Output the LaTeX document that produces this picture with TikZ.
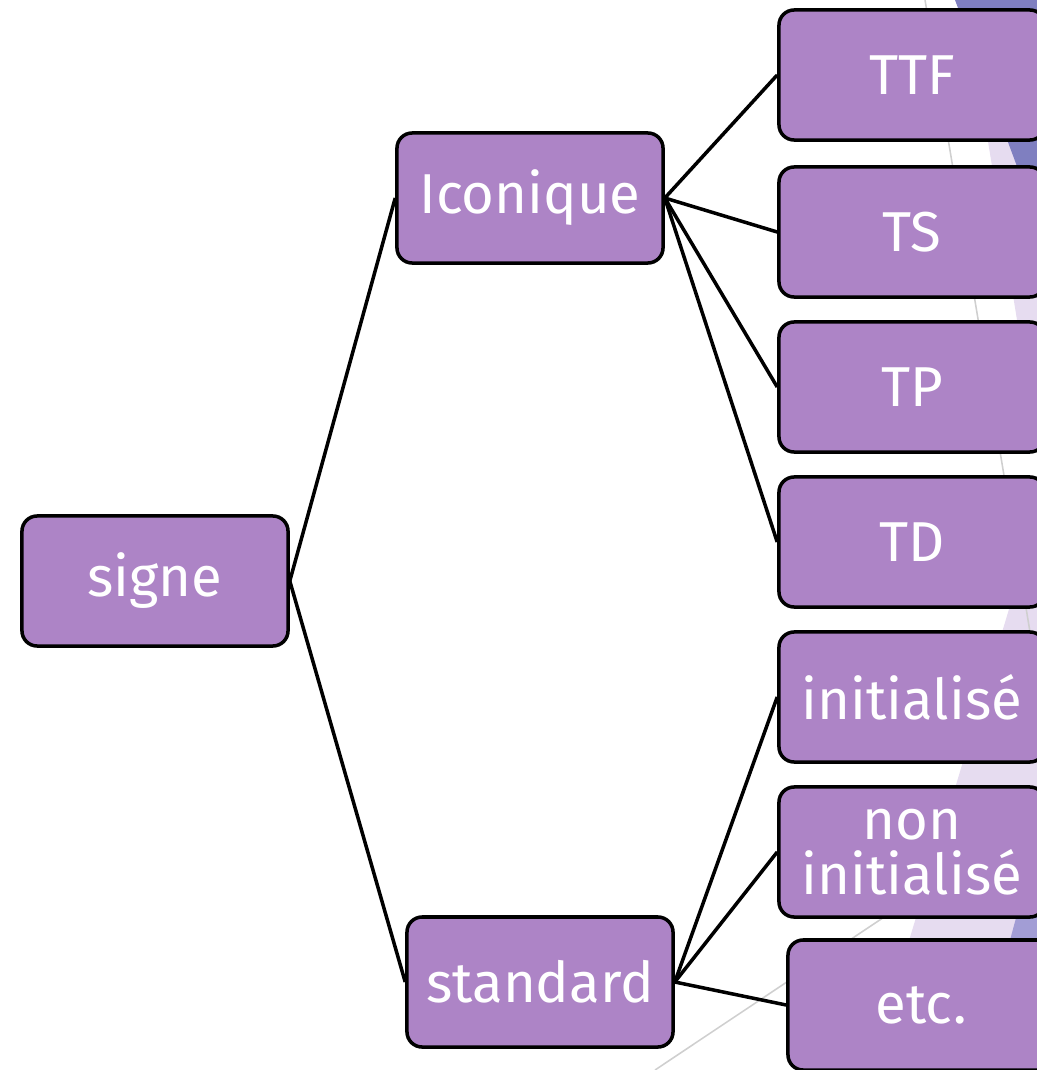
\documentclass[tikz,border=0pt]{standalone}
\usepackage{fontspec}
\setmainfont{Fira Sans}
\usetikzlibrary{positioning}
\definecolor{boxfill}{HTML}{AD84C6}
\definecolor{bgblue}{HTML}{7F7FC0}
\definecolor{bgblueb}{HTML}{A29DD5}
\definecolor{bglav}{HTML}{E6DCF0}
\definecolor{bgline}{HTML}{CFCFCF}

\begin{document}
\begin{tikzpicture}[x=0.025cm, y=-0.025cm]
\tikzstyle{sign} = [draw=black, line width=2.5pt, fill=boxfill, rounded corners=0.38cm, minimum width=6.65cm, minimum height=3.25cm, text=white, align=center, font=\fontsize{40}{39}\selectfont, inner sep=0pt]
\tikzstyle{link} = [draw=black, line width=2.5pt]
\tikzstyle{deco} = [draw=bgline, line width=1.1pt]

\useasboundingbox (0,0) rectangle (1037,1070);

% background of the slide
\fill[bglav] (965,0) -- (1037,0) -- (1037,400) -- (1030,400) -- cycle;
\fill[bgblue] (955,0) -- (1037,0) -- (1037,220) -- cycle;
\fill[bglav] (1060,440) -- (1037,440) -- (1037,1070) -- (870,1070) -- cycle;
\fill[bgblueb] (1037,840) -- (1037,1070) -- (975,1070) -- cycle;
\draw[deco] (925,0) -- (1033,650);
\draw[deco] (655,1070) -- (1037,815);

% nodes
\node[sign] (signe) at (155,581) {signe};
\node[sign] (icon) at (530,198) {Iconique};
\node[sign] (std) at (540,982) {standard};
\node[sign] (ttf) at (912,75) {TTF};
\node[sign] (ts) at (912,232) {TS};
\node[sign] (tp) at (912,387) {TP};
\node[sign] (td) at (912,542) {TD};
\node[sign] (init) at (912,697) {initialisé};
\node[sign] (noninit) at (912,852) {non\\initialisé};
\node[sign] (etc) at (921,1005) {etc.};

% links
\draw[link] (signe.east) -- (icon.west);
\draw[link] (signe.east) -- (std.west);
\foreach \n in {ttf,ts,tp,td}
  \draw[link] (icon.east) -- (\n.west);
\foreach \n in {init,noninit,etc}
  \draw[link] (std.east) -- (\n.west);
\end{tikzpicture}
\end{document}
